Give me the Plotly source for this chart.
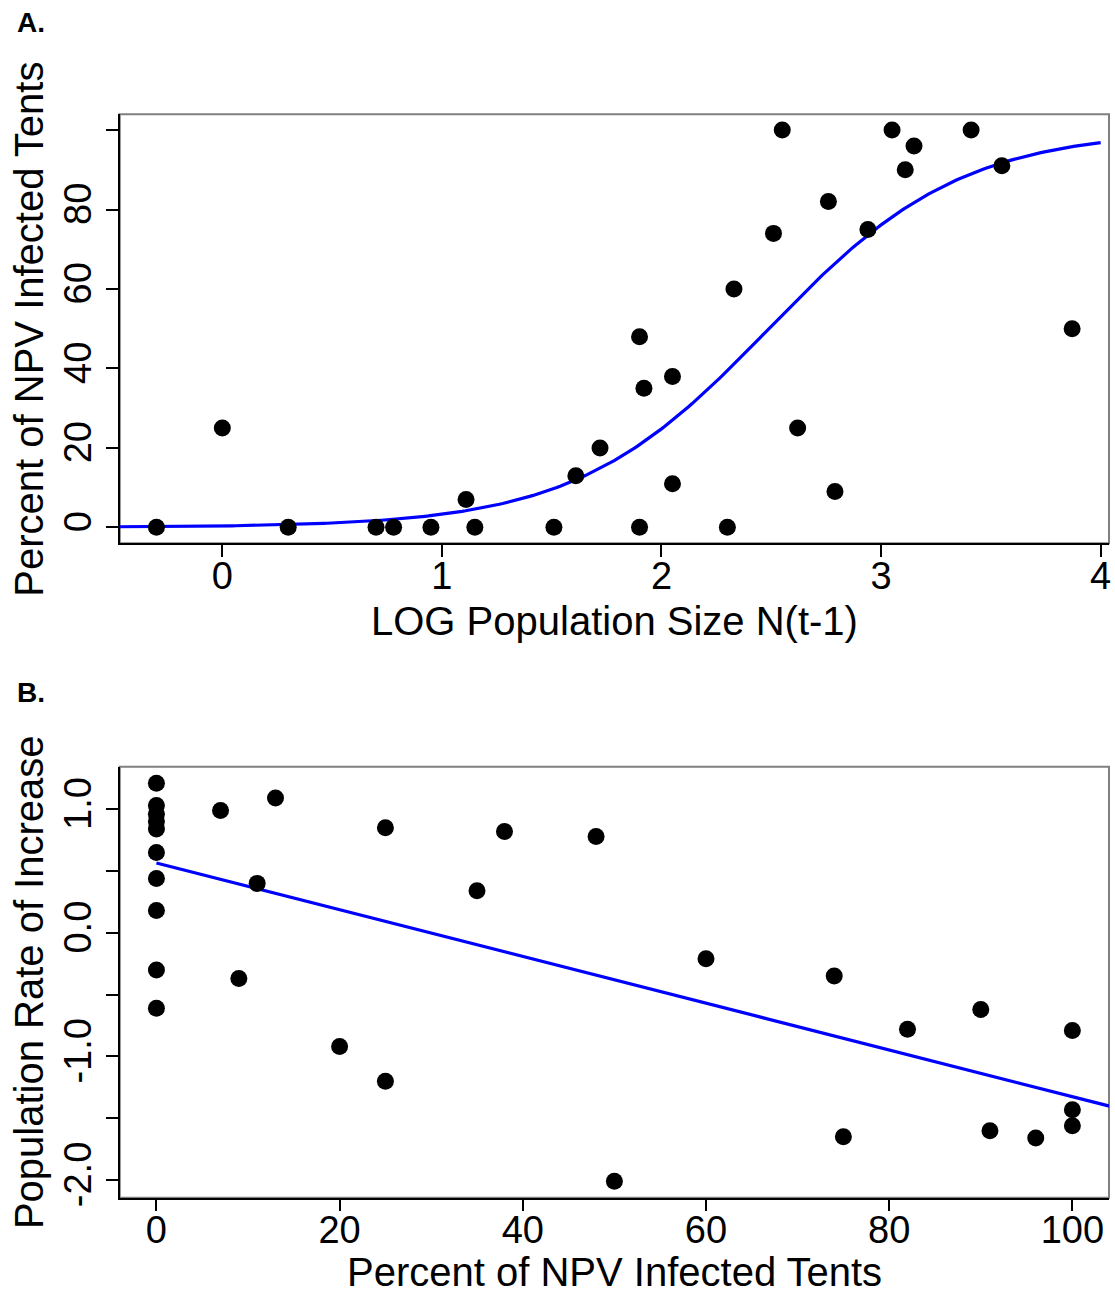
import numpy as np
import plotly.graph_objects as go

# ---------------- Data ----------------
# Panel A: LOG population size N(t-1) vs percent of NPV infected tents
log_pop = [-0.30, 0.00, 0.30, 0.70, 0.78, 0.95, 1.11, 1.15, 1.51, 1.61,
           1.72, 1.90, 1.90, 1.92, 2.05, 2.05, 2.30, 2.33, 2.51, 2.55,
           2.62, 2.76, 2.79, 2.94, 3.05, 3.11, 3.15, 3.41, 3.55, 3.87]
pct_infected_a = [0, 25, 0, 0, 0, 0, 7, 0, 0, 13,
                  20, 48, 0, 35, 38, 11, 0, 60, 74, 100,
                  25, 82, 9, 75, 100, 90, 96, 100, 91, 50]

# fitted logistic curve parameters (percent = 100 / (1 + exp(-(a + b*x))))
logit_a = -5.65
logit_b = 2.27

# Panel B: percent infected vs population rate of increase
pct_infected_b = [0, 0, 0, 0, 0, 0, 0, 0, 0, 0,
                  7, 13, 11, 9, 20, 25, 25, 35, 38, 48,
                  50, 60, 74, 75, 82, 90, 91, 96, 100, 100, 100]
rate_increase = [1.21, 1.03, 0.96, 0.90, 0.84, 0.65, 0.44, 0.18, -0.30, -0.61,
                 0.99, 1.09, 0.40, -0.37, -0.92, 0.85, -1.20, 0.34, 0.82, 0.78,
                 -2.01, -0.21, -0.35, -1.65, -0.78, -0.62, -1.60, -1.66, -0.79, -1.43, -1.56]

# fitted linear regression
lin_intercept = 0.565
lin_slope = -0.0189

# tick labels
xa_ticks = [0, 1, 2, 3, 4]
ya_ticks = [0, 20, 40, 60, 80, 100]
ya_ticktext = ["0", "20", "40", "60", "80", ""]
xb_ticks = [0, 20, 40, 60, 80, 100]
yb_ticks = [-2.0, -1.5, -1.0, -0.5, 0.0, 0.5, 1.0]
yb_ticktext = ["-2.0", "", "-1.0", "", "0.0", "", "1.0"]

# ---------------- Figure ----------------
W, H = 1115, 1303
FONT = "Arial, 'Liberation Sans', sans-serif"

def px(x):
    return x / W

def py(y):
    return 1 - y / H

fig = go.Figure()

curve_x = np.linspace(-0.6, 4.0, 300)
curve_y = 100.0 / (1.0 + np.exp(-(logit_a + logit_b * curve_x)))

fig.add_trace(go.Scatter(x=curve_x, y=curve_y, mode="lines",
                         line=dict(color="#0000FF", width=3.2),
                         xaxis="x", yaxis="y", hoverinfo="skip"))
fig.add_trace(go.Scatter(x=log_pop, y=pct_infected_a, mode="markers",
                         marker=dict(color="black", size=17, line=dict(width=0)),
                         xaxis="x", yaxis="y"))

line_x = np.array([0.0, 110.0])
line_y = lin_intercept + lin_slope * line_x
fig.add_trace(go.Scatter(x=line_x, y=line_y, mode="lines",
                         line=dict(color="#0000FF", width=3.2),
                         xaxis="x2", yaxis="y2", hoverinfo="skip"))
fig.add_trace(go.Scatter(x=pct_infected_b, y=rate_increase, mode="markers",
                         marker=dict(color="black", size=17, line=dict(width=0)),
                         xaxis="x2", yaxis="y2"))

axis_common = dict(showgrid=False, zeroline=False, showline=True,
                   linecolor="black", linewidth=1.5,
                   ticks="outside", ticklen=12, tickwidth=2, tickcolor="black",
                   tickfont=dict(family=FONT, size=38, color="black"))

xdom = [px(120), px(1111)]

fig.update_layout(
    width=W, height=H, autosize=False,
    margin=dict(l=0, r=0, t=0, b=0),
    paper_bgcolor="white", plot_bgcolor="white",
    showlegend=False,
    font=dict(family=FONT, color="black"),
    xaxis=dict(domain=xdom, range=[-0.467, 4.038], tickvals=xa_ticks,
               anchor="y", ticklabelstandoff=-14, **axis_common),
    yaxis=dict(domain=[py(547), py(115)], range=[-4, 104], tickvals=ya_ticks,
               ticktext=ya_ticktext, tickangle=-90, anchor="x", **axis_common),
    xaxis2=dict(domain=xdom, range=[-4, 104], tickvals=xb_ticks,
                anchor="y2", ticklabelstandoff=-14, **axis_common),
    yaxis2=dict(domain=[py(1206), py(772)], range=[-2.142, 1.344], tickvals=yb_ticks,
                ticktext=yb_ticktext, tickangle=-90, anchor="x2", **axis_common),
)

# plot frames (box)
for xr, yr in (("x domain", "y domain"), ("x2 domain", "y2 domain")):
    fig.add_shape(type="rect", xref=xr, yref=yr, x0=0, x1=1, y0=0, y1=1,
                  line=dict(color="#808080", width=2), layer="below")

ann = []
ann.append(dict(text="LOG Population Size N(t-1)", x=px(615.5), y=py(625),
                font=dict(size=40)))
ann.append(dict(text="Percent of NPV Infected Tents", x=px(29), y=py(331),
                textangle=-90, font=dict(size=40)))
ann.append(dict(text="Percent of NPV Infected Tents", x=px(615.5), y=py(1281),
                font=dict(size=40)))
ann.append(dict(text="Population Rate of Increase", x=px(29), y=py(989),
                textangle=-90, font=dict(size=40)))
for a in ann:
    a.update(xref="paper", yref="paper", xanchor="center", yanchor="middle",
             showarrow=False)
    a["font"].update(family=FONT, color="black")
    fig.add_annotation(**a)

fig.add_annotation(text="<b>A.</b>", x=px(15), y=py(23), xref="paper", yref="paper",
                   xanchor="left", yanchor="middle", showarrow=False,
                   font=dict(family=FONT, size=28, color="black"))
fig.add_annotation(text="<b>B.</b>", x=px(15), y=py(697), xref="paper", yref="paper",
                   xanchor="left", yanchor="middle", showarrow=False,
                   font=dict(family=FONT, size=28, color="black"))

fig.write_html("out.html")
